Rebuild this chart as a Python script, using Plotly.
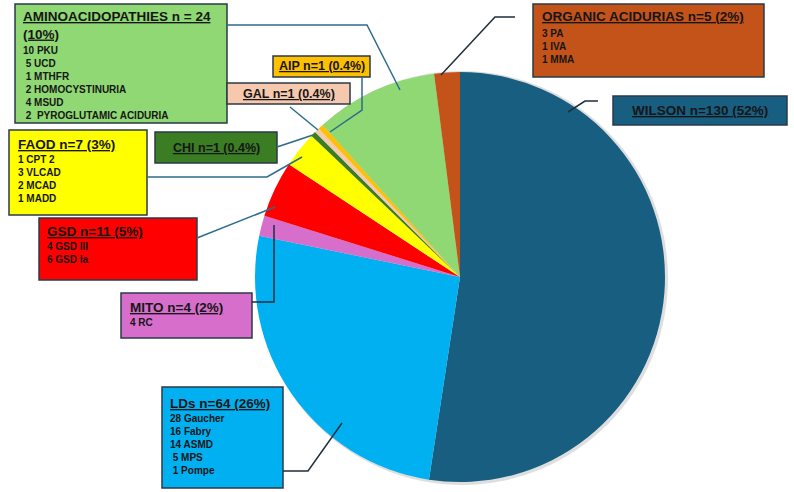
import plotly.graph_objects as go

W, H = 794, 492

# ---- data ----
categories = ["WILSON", "LDs", "MITO", "GSD", "FAOD", "CHI", "GAL", "AIP",
              "AMINOACIDOPATHIES", "ORGANIC ACIDURIAS"]
counts = [130, 64, 4, 11, 7, 1, 1, 1, 24, 5]
percent_labels = ["52%", "26%", "2%", "5%", "3%", "0.4%", "0.4%", "0.4%", "10%", "2%"]
slice_colors = ["#185E80", "#00B0F0", "#D86ECC", "#FF0000", "#FFFF00",
                "#3B7D23", "#F6C9AE", "#FFC000", "#8FD873", "#C4531A"]

amino_items = ["10 PKU", "\u00a05 UCD", "\u00a01 MTHFR", "\u00a02 HOMOCYSTINURIA",
               "\u00a04 MSUD", "\u00a02 \u00a0PYROGLUTAMIC ACIDURIA"]
organic_items = ["3 PA", "1 IVA", "1 MMA"]
faod_items = ["1 CPT 2", "3 VLCAD", "2 MCAD", "1 MADD"]
gsd_items = ["4 GSD III", "6 GSD Ia"]
mito_items = ["4 RC"]
lds_items = ["28 Gaucher", "16 Fabry", "14 ASMD", "\u00a05 MPS", "\u00a01 Pompe"]

FONT = "Liberation Sans"
BORDER = "#2B3A48"
LEAD_TEAL = "#2E6B8C"
LEAD_DARK = "#1E2F3C"


def X(px):
    return px / W


def Y(py):
    return 1 - py / H


fig = go.Figure()
fig.add_trace(go.Pie(
    labels=categories, values=counts, sort=False, direction="clockwise",
    rotation=0, textinfo="none", hoverinfo="label+value+percent",
    marker=dict(colors=slice_colors, line=dict(width=0)),
    domain=dict(x=[X(255), X(665)], y=[Y(482), Y(72)]),
    showlegend=False,
))

shapes = []
annotations = []

# subtle shadow behind the pie
shapes.append(dict(type="circle", xref="paper", yref="paper", layer="below",
                   x0=X(256), x1=X(668), y0=Y(485), y1=Y(71),
                   fillcolor="rgba(160,160,160,0.35)", line=dict(width=0)))


def box(x0, y0, x1, y1, color):
    shapes.append(dict(type="rect", xref="paper", yref="paper",
                       x0=X(x0), x1=X(x1), y0=Y(y1), y1=Y(y0),
                       fillcolor=color, line=dict(color=BORDER, width=1.5)))


def text(x, y, s, size, xanchor="left", color="#161616"):
    annotations.append(dict(xref="paper", yref="paper", x=X(x), y=Y(y), text=s,
                            showarrow=False, xanchor=xanchor, yanchor="middle",
                            align="left",
                            font=dict(family=FONT, size=size, color=color)))


def lead(points, color):
    d = "M " + " L ".join(f"{X(px)},{Y(py)}" for px, py in points)
    shapes.append(dict(type="path", xref="paper", yref="paper", path=d,
                       line=dict(color=color, width=1.5)))


def title(i, name=None):
    nm = name if name is not None else categories[i]
    return f"<b><u>{nm} n={counts[i]} ({percent_labels[i]})</u></b>"


def items(lst):
    return "<b>" + "<br>".join(lst) + "</b>"


# AMINOACIDOPATHIES
box(15, 4, 227, 123, slice_colors[8])
text(21, 25.5, f"<b><u>{categories[8]} n = {counts[8]}</u><br><u>({percent_labels[8]})</u></b>", 13.5)
text(21, 83, items(amino_items), 10)
lead([(227, 25), (367, 25), (400, 90)], LEAD_TEAL)

# ORGANIC ACIDURIAS
box(533, 4, 764, 77, slice_colors[9])
text(540, 17, title(9), 13.5)
text(540, 46, items(organic_items), 10)
lead([(515, 17), (495, 17), (441, 75)], LEAD_DARK)

# WILSON
box(613, 96, 787, 125, slice_colors[0])
text(700, 110.5, title(0), 13.5, xanchor="center")
lead([(598, 101), (585, 101), (568, 112)], LEAD_DARK)

# AIP
box(273, 56, 370, 77, slice_colors[7])
text(321.5, 66.5, title(7), 12.5, xanchor="center")
lead([(362, 77), (362, 110), (330, 132)], LEAD_TEAL)

# GAL
box(227, 83, 350, 104, slice_colors[6])
text(289, 94, title(6), 12.5, xanchor="center")
lead([(290, 107), (318, 130)], LEAD_TEAL)

# CHI
box(155, 132, 277, 163, slice_colors[5])
text(216, 147.5, title(5), 12.5, xanchor="center")
lead([(277, 147), (313, 135)], LEAD_TEAL)

# FAOD
box(9, 130, 147, 215, slice_colors[4])
text(16, 144, title(4), 13.5)
text(16, 178.5, items(faod_items), 10)
lead([(147, 177), (267, 177), (302, 157)], LEAD_TEAL)

# GSD
box(39, 218, 197, 280, slice_colors[3])
text(45, 231, title(3), 13.5)
text(45, 252.5, items(gsd_items), 10)
lead([(197, 238), (275, 207)], LEAD_TEAL)

# MITO
box(121, 293, 252, 338, slice_colors[2])
text(128, 307, title(2), 13.5)
text(128, 322, items(mito_items), 10)
lead([(252, 302), (274, 302), (274, 225)], LEAD_DARK)

# LDs
box(162, 387, 283, 488, slice_colors[1])
text(168, 403, title(1), 13.5)
text(168, 444, items(lds_items), 10)
lead([(283, 471), (308, 471), (342, 423)], LEAD_DARK)

fig.update_layout(
    width=W, height=H, margin=dict(l=0, r=0, t=0, b=0),
    paper_bgcolor="white", plot_bgcolor="white",
    shapes=shapes, annotations=annotations, showlegend=False,
)

fig.write_html("out.html")
